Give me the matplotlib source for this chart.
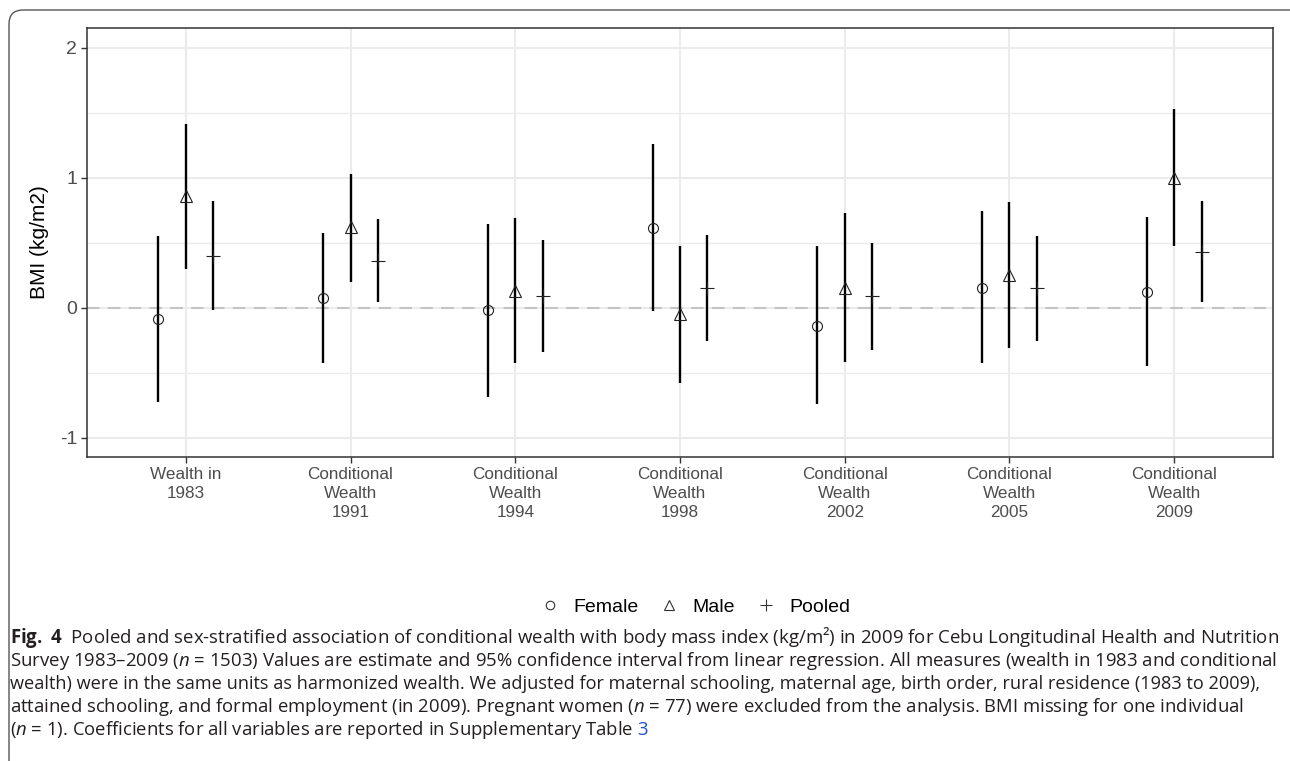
import matplotlib
matplotlib.use("Agg")
import matplotlib.pyplot as plt
from matplotlib import font_manager
from matplotlib.lines import Line2D
from matplotlib.patches import FancyBboxPatch
import numpy as np

# ---------- DATA ----------
categories = ["Wealth in\n1983", "Conditional\nWealth\n1991", "Conditional\nWealth\n1994",
              "Conditional\nWealth\n1998", "Conditional\nWealth\n2002", "Conditional\nWealth\n2005",
              "Conditional\nWealth\n2009"]

female_est = [-0.09, 0.07, -0.02, 0.61, -0.14, 0.15, 0.12]
female_lo = [-0.73, -0.43, -0.69, -0.03, -0.74, -0.43, -0.45]
female_hi = [0.55, 0.57, 0.64, 1.26, 0.47, 0.74, 0.70]

male_est = [0.86, 0.62, 0.13, -0.05, 0.15, 0.25, 1.00]
male_lo = [0.30, 0.20, -0.43, -0.58, -0.42, -0.31, 0.47]
male_hi = [1.41, 1.03, 0.69, 0.47, 0.73, 0.81, 1.53]

pooled_est = [0.40, 0.36, 0.09, 0.15, 0.09, 0.15, 0.43]
pooled_lo = [-0.02, 0.04, -0.34, -0.26, -0.33, -0.26, 0.04]
pooled_hi = [0.82, 0.68, 0.52, 0.56, 0.50, 0.55, 0.82]

groups = ["Female", "Male", "Pooled"]
markers = ["o", "^", "+"]
msizes = [7.2, 8.8, 10]

caption_lines = [
    r"$\mathbf{Fig.\ 4}$  Pooled and sex-stratified association of conditional wealth with body mass index (kg/m²) in 2009 for Cebu Longitudinal Health and Nutrition",
    r"Survey 1983–2009 ($\mathit{n}$ = 1503) Values are estimate and 95% confidence interval from linear regression. All measures (wealth in 1983 and conditional",
    r"wealth) were in the same units as harmonized wealth. We adjusted for maternal schooling, maternal age, birth order, rural residence (1983 to 2009),",
    r"attained schooling, and formal employment (in 2009). Pregnant women ($\mathit{n}$ = 77) were excluded from the analysis. BMI missing for one individual",
    r"($\mathit{n}$ = 1). Coefficients for all variables are reported in Supplementary Table",
]
# right end (pixels) of the full caption lines in the reference
caption_ends = [1280, 1276, 1262, 1248]

# ---------- FONTS ----------
installed = {f.name for f in font_manager.fontManager.ttflist}
cap_font = "Liberation Sans Narrow" if "Liberation Sans Narrow" in installed else "Open Sans"
cap_size = 13.3

plt.rcParams['font.family'] = ['Liberation Sans', 'DejaVu Sans']
plt.rcParams['mathtext.fontset'] = 'custom'
plt.rcParams['mathtext.rm'] = cap_font
plt.rcParams['mathtext.it'] = cap_font + ':italic'
plt.rcParams['mathtext.bf'] = cap_font + ':bold'

# ---------- FIGURE ----------
fig = plt.figure(figsize=(12.9, 7.61), dpi=100)
W, H = 1290, 761
ax = fig.add_axes([87 / W, 1 - 457 / H, (1273 - 87) / W, (457 - 28) / H])

# outer rounded frame (cropped at right and bottom)
frame = FancyBboxPatch((0.09, -0.6), 13.5, 8.11, boxstyle="round,pad=0,rounding_size=0.14",
                       transform=fig.dpi_scale_trans, facecolor="none", edgecolor="#555555",
                       linewidth=1.0, zorder=0)
fig.patches.append(frame)

x = np.arange(1, len(categories) + 1)
dodge = [-1 / 6, 0, 1 / 6]
ests = [female_est, male_est, pooled_est]
los = [female_lo, male_lo, pooled_lo]
his = [female_hi, male_hi, pooled_hi]

ax.axhline(0, color="#c4c4c4", linewidth=1.5, dashes=(6, 4), zorder=1)

for i in range(3):
    xs = x + dodge[i]
    ax.vlines(xs, los[i], his[i], color="black", linewidth=1.7, zorder=2)
    ax.plot(xs, ests[i], linestyle="none", marker=markers[i], markersize=msizes[i],
            markerfacecolor="none", markeredgecolor="#222222", markeredgewidth=0.8, zorder=3)

ax.set_xlim(0.4, 7.6)
ax.set_ylim(-1.15, 2.15)
ax.set_xticks(x)
ax.set_xticklabels(categories, fontsize=12.3, color="#4d4d4d", linespacing=1.35)
ax.set_yticks([-1, 0, 1, 2])
ax.set_yticklabels(["-1", "0", "1", "2"], fontsize=14, color="#4d4d4d")
ax.set_yticks([-0.5, 0.5, 1.5], minor=True)
ax.tick_params(axis="both", which="major", length=4, width=1, color="#333333", pad=3)
ax.tick_params(axis="y", which="minor", length=0)
ax.tick_params(axis="x", which="minor", bottom=False)
ax.grid(True, which="major", color="#ebebeb", linewidth=1.5)
ax.grid(True, which="minor", axis="y", color="#ebebeb", linewidth=1.0)
ax.set_axisbelow(True)
for s in ax.spines.values():
    s.set_color("#333333")
    s.set_linewidth(1.1)

ax.set_ylabel("BMI (kg/m2)", fontsize=15, color="black", labelpad=8)

# legend
handles = [Line2D([], [], linestyle="none", marker=markers[i], markersize=msizes[i] * 0.85,
                  markerfacecolor="none", markeredgecolor="#333333", markeredgewidth=0.8)
           for i in range(3)]
fig.legend(handles, groups, loc="center", bbox_to_anchor=(0.539, 1 - 607 / H), ncol=3,
           frameon=False, fontsize=14, handletextpad=0.7, columnspacing=1.1, handlelength=1.0)

# caption, full lines fitted to the reference line length
ys = [637, 661, 684, 707, 730]
texts = []
for line, yy in zip(caption_lines, ys):
    texts.append(fig.text(10 / W, 1 - yy / H, line, fontsize=cap_size, family=cap_font,
                          color="#231f20", va="center", ha="left"))
fig.canvas.draw()
rend = fig.canvas.get_renderer()
sizes = []
for t, end in zip(texts[:4], caption_ends):
    bb = t.get_window_extent(renderer=rend)
    sizes.append(cap_size * (end - 10) / bb.width)
    t.set_fontsize(sizes[-1])
texts[4].set_fontsize(np.mean(sizes))
fig.canvas.draw()
bb = texts[-1].get_window_extent(renderer=rend)
fig.text((bb.x1 + 4) / W, 1 - ys[-1] / H, "3", fontsize=texts[-1].get_fontsize(),
         family=cap_font, color="#1f4fd6", va="center", ha="left")

fig.savefig("out.png", dpi=100)
